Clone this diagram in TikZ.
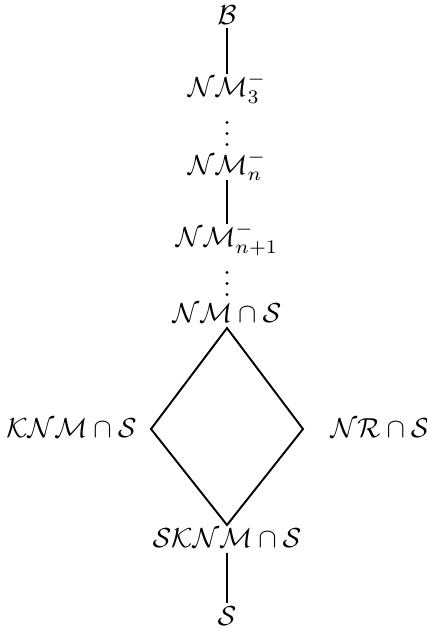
\documentclass[tikz,border=0pt]{standalone}
\usepackage{amsmath}
\usepackage{tikz}
\usetikzlibrary{positioning,calc}

\begin{document}
\begin{tikzpicture}[
    x=0.3636pt, y=-0.3636pt,
    lbl/.style={inner sep=0pt, text height=7.8pt, text depth=2pt, anchor=base},
    lnk/.style={line width=0.7pt},
    dotlnk/.style={line width=1.2pt, line cap=round, dash pattern=on 0pt off 4pt,
                   shorten <=7.4pt, shorten >=2pt},
  ]
    \useasboundingbox (0,0) rectangle (426,633);

    \node[lbl, text height=6.9pt, text depth=1pt] (b) at (227,25) {$\mathcal{B}$};
    \node[lbl] (nm3)  at (227,96)  {$\mathcal{NM}_3^-$};
    \node[lbl] (nmn)  at (227,174) {$\mathcal{NM}_n^-$};
    \node[lbl] (nmn1) at (227,246) {$\mathcal{NM}_{n+1}^-$};
    \node[lbl] (nms)  at (227,322) {$\mathcal{NM}\cap\mathcal{S}$};
    \node[lbl, anchor=base east, inner xsep=5pt]  (knm) at (151,437) {$\mathcal{KNM}\cap\mathcal{S}$};
    \node[lbl, anchor=base west, inner xsep=9.8pt] (nrs) at (303,437) {$\mathcal{NR}\cap\mathcal{S}$};
    \node[lbl] (sknm) at (227,547) {$\mathcal{SKNM}\cap\mathcal{S}$};
    \node[lbl] (s)    at (227,625) {$\mathcal{S}$};

    \draw[lnk]    (b.south)    -- (nm3.north);
    \draw[dotlnk] (nm3.south)  -- (nmn.north);
    \draw[lnk]    (nmn.south)  -- (nmn1.north);
    \draw[dotlnk] (nmn1.south) -- (nms.north);
    \draw[lnk] (nms.south) -- (knm.east) -- (sknm.north) -- (nrs.west) -- cycle;
    \draw[lnk]    (sknm.south) -- (s.north);
\end{tikzpicture}
\end{document}
